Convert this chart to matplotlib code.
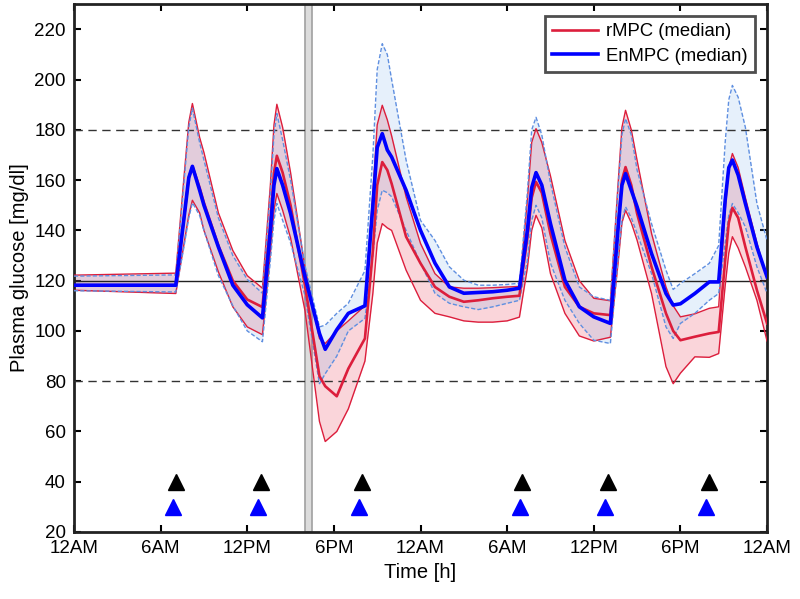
import numpy as np
import matplotlib
matplotlib.use('Agg')
import matplotlib.pyplot as plt

plt.rcParams['font.family'] = ['Liberation Sans', 'DejaVu Sans']

# time in hours (0 = 12AM day 1, 48 = 12AM day 3)
t = [0, 7.05, 7.6, 7.95, 8.2, 8.7, 9, 10, 11, 12, 13.05,
     13.6, 13.85, 14.05, 14.45, 15, 16, 17, 17.4, 18.2, 19, 20.15,
     20.7, 21.0, 21.35, 21.7, 22, 23, 24, 25, 26, 27, 28, 29, 30, 30.85,
     31.4, 31.7, 32.0, 32.4, 33, 34, 35, 36, 37.15,
     37.7, 37.95, 38.2, 38.6, 39, 40, 41, 41.5, 42, 43, 44, 44.65,
     45.1, 45.35, 45.6, 46.0, 46.5, 47.3, 48]

# EnMPC: median and spread bounds
en_med = [118.2, 118.2, 144, 161, 165.5, 156, 150, 133.4, 118.2, 110.4, 105.2,
          140, 158, 164.6, 158, 146.7, 121.5, 99, 92.7, 100.5, 107, 110,
          150, 173, 178.5, 172, 169.2, 156, 140, 127, 117.5, 115, 115.3, 115.6, 116.2, 117,
          140, 157, 163, 158, 142.7, 120.2, 109.6, 105.6, 103,
          142, 158, 162.6, 156, 149.4, 130.8, 114.9, 110.3, 110.8, 114.9, 119.5, 119.5,
          152, 165, 168, 162, 150.7, 133.4, 121.5]
en_hi = [121.8, 122.3, 158, 181, 188.6, 175, 168, 145, 130, 120.5, 115,
         155, 178, 186.5, 176, 160, 126, 101.6, 102.3, 107, 111, 124,
         170, 204, 214.3, 210, 200, 168, 144, 136, 125.5, 120.2, 118.2, 118.2, 118.5, 119,
         155, 180, 185, 178, 159, 133.4, 117.5, 113.6, 112.2,
         158, 178, 184.5, 178, 164, 142.7, 124.2, 116.5, 118.9, 122.8, 126.9, 134,
         175, 192, 197.7, 193, 181, 150.7, 136]
en_lo = [116, 115.5, 133, 145, 151, 146, 140, 122, 110, 100, 95.7,
         128, 144, 150.7, 144, 135, 114, 79, 83, 90, 100, 105,
         130, 148, 156, 155, 153.4, 140, 127, 115, 111, 109.6, 108.5, 109.6, 111, 112.2,
         128, 144, 150, 145, 127, 112.2, 103, 96.3, 95,
         130, 144, 149.4, 145, 138.8, 122.8, 101.6, 97, 103, 107, 112.2, 114.9,
         135, 146, 150.7, 147, 141.4, 125.5, 115]

# rMPC: median and spread bounds
r_med = [118.2, 118.2, 144, 161, 165.5, 157, 151, 134, 120, 112.5, 109.5,
         143, 163, 169.7, 163, 150, 118, 82, 78, 74, 85, 97,
         132, 158, 167.2, 164, 158.6, 137.5, 126.9, 117.5, 113.6, 111.6, 112.2, 113, 113.6, 114,
         137, 153, 159.3, 155, 138.6, 117.5, 109.6, 107, 106.3,
         143, 160, 165.2, 158, 146.7, 125.5, 107, 100, 96.3, 97.7, 99, 99.6,
         128, 143, 149, 145, 133.4, 116.2, 103]
r_hi = [122.2, 123, 160, 183, 190.5, 177, 171, 147, 132, 122, 117,
        158, 182, 190.2, 181, 163, 125, 97, 95, 100, 104, 110,
        155, 182, 189.8, 184, 177.6, 153.4, 134.8, 122.8, 117.5, 117, 117, 117.2, 117.5, 117.7,
        152, 175, 180.5, 175, 161.7, 136, 120, 113, 112,
        160, 181, 187.8, 180, 167.9, 138.8, 117.5, 110, 105.6, 106.8, 109, 109.6,
        148, 165, 170.6, 165, 153, 135, 121]
r_lo = [116.2, 114.9, 134, 146, 152, 147, 140, 123.5, 109.6, 101.6, 98.5,
        131, 148, 154.7, 148, 137, 108, 64, 56, 60, 69, 88,
        115, 135, 142.7, 141, 140, 124.2, 112.2, 107, 105.6, 104, 103.5, 103.5, 104, 105.5,
        125, 140, 146, 141, 122.8, 107, 98, 96, 97.5,
        128, 143, 148, 143, 136.1, 114.9, 85.8, 79, 83.2, 89.7, 89.5, 91,
        118, 131, 137.5, 133, 125.5, 112.2, 96]

# meal announcements
meal_black = [7.07, 12.95, 19.95, 31.04, 36.96, 44.0]
meal_blue = [6.85, 12.75, 19.77, 30.86, 36.8, 43.8]

xticks = [0, 6, 12, 18, 24, 30, 36, 42, 48]
xlabels = ['12AM', '6AM', '12PM', '6PM', '12AM', '6AM', '12PM', '6PM', '12AM']

red = '#DC1E3C'
blue = '#0000FF'
lblue = '#5F8FE0'

fig = plt.figure(figsize=(8, 5.99), dpi=100)
ax = fig.add_axes([0.0925, 0.1119, 0.8663, 0.881])

ax.axvspan(16.0, 16.5, facecolor='#DCDCDC', edgecolor='#A0A0A0', lw=1.2, zorder=1)

ax.fill_between(t, r_lo, r_hi, color='#E8304A', alpha=0.2, lw=0, zorder=2)
ax.fill_between(t, en_lo, en_hi, color='#5A9BE6', alpha=0.15, lw=0, zorder=2)

ax.axhline(180, color='#333333', lw=1, ls=(0, (6, 4)), zorder=3)
ax.axhline(80, color='#333333', lw=1, ls=(0, (6, 4)), zorder=3)
ax.axhline(120, color='#222222', lw=1, zorder=3)

ax.plot(t, r_hi, color=red, lw=1.0, zorder=4)
ax.plot(t, r_lo, color=red, lw=1.0, zorder=4)
ax.plot(t, en_hi, color=lblue, lw=1.0, ls=(0, (3, 1.5)), zorder=5)
ax.plot(t, en_lo, color=lblue, lw=1.0, ls=(0, (3, 1.5)), zorder=5)
ax.plot(t, r_med, color=red, lw=1.9, zorder=6, label='rMPC (median)')
ax.plot(t, en_med, color=blue, lw=2.6, zorder=7, label='EnMPC (median)')

ax.plot(meal_black, [40] * len(meal_black), '^', color='black', ms=11, zorder=8)
ax.plot(meal_blue, [30] * len(meal_blue), '^', color=blue, ms=11, zorder=8)

ax.set_xlim(0, 48)
ax.set_ylim(20, 230)
ax.set_xticks(xticks)
ax.set_xticklabels(xlabels)
ax.set_yticks(range(20, 221, 20))
ax.tick_params(direction='in', length=5, width=1.5, labelsize=13.5, top=True, right=True, pad=6)
for s in ax.spines.values():
    s.set_linewidth(2)
    s.set_color('#222222')

ax.set_xlabel('Time [h]', fontsize=14.5, labelpad=4)
ax.set_ylabel('Plasma glucose [mg/dl]', fontsize=14.5, labelpad=4)

leg = ax.legend(loc='upper right', fontsize=13.3, frameon=True, fancybox=False,
                handlelength=2.5, handletextpad=0.4, borderpad=0.4, labelspacing=0.4,
                borderaxespad=0, bbox_to_anchor=(0.982, 0.978))
leg.get_frame().set_edgecolor('#222222')
leg.get_frame().set_linewidth(2)

fig.savefig('out.png', dpi=100)
